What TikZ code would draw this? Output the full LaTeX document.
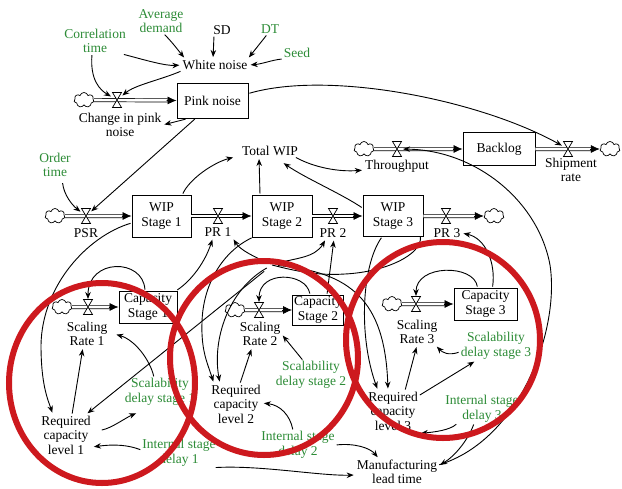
\documentclass[tikz,border=0pt]{standalone}
\usepackage{fontspec}
\setmainfont{Liberation Serif}
\usetikzlibrary{arrows.meta,calc,shapes.symbols}
\definecolor{dgreen}{RGB}{45,140,55}
\definecolor{ringred}{RGB}{205,25,30}
\newcommand{\dfont}{\fontsize{13.5}{14.5}\selectfont}
\tikzset{
  lbl/.style={font=\dfont, align=center, inner sep=1pt},
  glbl/.style={lbl, text=dgreen},
  stock/.style={draw, line width=0.9pt, fill=white, align=center, font=\dfont, inner sep=1pt},
  arr/.style={line width=0.9pt, -{Stealth[length=7pt,width=5.5pt]}, shorten >=2pt, shorten <=1pt},
  pipe/.style={double=white, double distance=2.6pt, line width=0.7pt},
  pipetip/.style={line width=0.7pt, -{Latex[length=9pt,width=8pt]}},
  cloudn/.style={cloud, cloud puffs=7, draw, fill=white, line width=0.7pt, minimum width=20pt, minimum height=15pt, inner sep=0pt},
  redring/.style={draw=ringred, line width=6pt},
  valve/.pic={\draw[line width=0.7pt, fill=white] (-4.5,-7.5) -- (4.5,-7.5) -- (-4.5,7.5) -- (4.5,7.5) -- cycle;}
}
\newcommand{\flowpipe}[2]{%
  \draw[pipe] (#1) -- ($(#2)!9pt!(#1)$);
  \draw[pipetip] ($(#2)!10pt!(#1)$) -- (#2);}
\begin{document}
\begin{tikzpicture}[x=1pt,y=-1pt]
\useasboundingbox (0,0) rectangle (622,488);
\fill[white] (0,0) rectangle (622,488);

% ---- top: noise ----
\node[glbl] (avgd) at (161,21) {Average\\demand};
\node[lbl] (sd) at (222,30) {SD};
\node[glbl] (dt) at (270,29) {DT};
\node[glbl] (seed) at (297,53) {Seed};
\node[glbl] (corr) at (95,41) {Correlation\\time};
\node[lbl] (wn) at (215,65) {White noise};
\node[stock, minimum width=71pt, minimum height=35pt] (pink) at (212.5,100.5) {Pink noise};
\node[cloudn] (cpnc) at (84,100) {};
\coordinate (cpn) at (117,100);
\node[lbl] (cpnl) at (120,125) {Change in pink\\noise};

% ---- WIP chain ----
\node[lbl] (totwip) at (270,151) {Total WIP};
\node[glbl] (order) at (55,165) {Order\\time};
\node[cloudn] (psrc) at (55,216) {};
\coordinate (psr) at (86,216);
\node[lbl] (psrl) at (86,233) {PSR};
\node[stock, minimum width=59pt, minimum height=42pt] (wip1) at (161.5,216) {WIP\\Stage 1};
\coordinate (pr1) at (218,216);
\node[lbl] (pr1l) at (218,232) {PR 1};
\node[stock, minimum width=60pt, minimum height=42pt] (wip2) at (282,216) {WIP\\Stage 2};
\coordinate (pr2) at (333,216);
\node[lbl] (pr2l) at (333,233) {PR 2};
\node[stock, minimum width=60pt, minimum height=41pt] (wip3) at (393,216) {WIP\\Stage 3};
\coordinate (pr3) at (446,216);
\node[lbl] (pr3l) at (447,233) {PR 3};
\node[cloudn] (pr3c) at (494,216) {};

% ---- backlog ----
\node[cloudn] (thrc) at (364,149) {};
\coordinate (thr) at (397,149);
\node[lbl] (thrl) at (397,166) {Throughput};
\node[stock, minimum width=72pt, minimum height=33pt] (backlog) at (499,149) {Backlog};
\coordinate (ship) at (568,149);
\node[lbl] (shipl) at (571,170) {Shipment\\rate};
\node[cloudn] (shipc) at (610,149) {};

% ---- capacity ----
\node[stock, minimum width=58pt, minimum height=32pt] (cap1) at (148,307) {Capacity\\Stage 1};
\node[cloudn] (sr1c) at (62,307) {};
\coordinate (sr1) at (88,307);
\node[lbl] (sr1l) at (87,334) {Scaling\\Rate 1};
\node[stock, minimum width=51pt, minimum height=30pt] (cap2) at (318,310) {Capacity\\Stage 2};
\node[cloudn] (sr2c) at (235,310) {};
\coordinate (sr2) at (259,310);
\node[lbl] (sr2l) at (260,334) {Scaling\\Rate 2};
\node[stock, minimum width=63pt, minimum height=32pt] (cap3) at (485.5,304) {Capacity\\Stage 3};
\node[cloudn] (sr3c) at (392,304) {};
\coordinate (sr3) at (416,304);
\node[lbl] (sr3l) at (417,332) {Scaling\\Rate 3};

\node[glbl] (sd1) at (160,392) {Scalability\\delay stage 1};
\node[glbl] (sd2) at (311,375) {Scalability\\delay stage 2};
\node[glbl] (sd3) at (496,346) {Scalability\\delay stage 3};
\node[lbl] (rc1) at (66,435) {Required\\capacity\\level 1};
\node[lbl] (rc2) at (236,404) {Required\\capacity\\level 2};
\node[lbl] (rc3) at (393,411) {Required\\capacity\\level 3};
\node[glbl] (isd1) at (179,453) {Internal stage\\delay 1};
\node[glbl] (isd2) at (298,445) {Internal stage\\delay 2};
\node[glbl] (isd3) at (482,409) {Internal stage\\delay 3};
\node[lbl] (mlt) at (397,472) {Manufacturing\\lead time};
\coordinate (hid) at (272,265);

% ---- flows ----
\flowpipe{cpnc.east}{pink.west}
\flowpipe{psrc.east}{wip1.west}
\flowpipe{wip1.east}{wip2.west}
\flowpipe{wip2.east}{wip3.west}
\flowpipe{wip3.east}{pr3c.west}
\flowpipe{thrc.east}{backlog.west}
\flowpipe{backlog.east}{shipc.west}
\flowpipe{sr1c.east}{cap1.west}
\flowpipe{sr2c.east}{cap2.west}
\flowpipe{sr3c.east}{cap3.west}
\foreach \v in {cpn,psr,pr1,pr2,pr3,thr,ship,sr1,sr2,sr3} {\pic at (\v) {valve};}

% ---- noise links ----
\draw[arr] ([xshift=-4pt]corr.south east) .. controls (145,60) and (165,66) .. (wn.west);
\draw[arr, shorten >=7pt] ([xshift=-3pt]corr.south) .. controls (90,80) and (100,90) .. (cpn);
\draw[arr] ([xshift=3pt]avgd.south) .. controls (172,42) and (178,50) .. ([xshift=4pt]wn.north west);
\draw[arr] ([xshift=-8pt]sd.south) -- ([xshift=-2pt]wn.north);
\draw[arr] ([xshift=-3pt]dt.south) -- ([xshift=-1pt]wn.north east);
\draw[arr] (seed.south west) .. controls (272,60) and (262,64) .. (wn.east);
\draw[arr, shorten >=7pt] (wn.south west) .. controls (160,80) and (135,85) .. (cpn);
\draw[arr, shorten <=3pt] ([xshift=-24pt]pink.south) -- (cpnl.east);
\draw[arr, shorten >=7pt] ([xshift=-17pt]pink.south) -- (psr);
\draw[arr, shorten >=7pt] ([yshift=7pt]pink.east) .. controls (330,70) and (480,100) .. (ship);

% ---- WIP links ----
\draw[arr] ([xshift=-9pt]wip1.north east) .. controls (190,178) and (215,162) .. ([xshift=-6pt]totwip.south west);
\draw[arr] ([xshift=-22pt]wip2.north) -- ([xshift=-11pt]totwip.south);
\draw[arr] ([yshift=8pt]wip3.west) .. controls (340,193) and (305,178) .. ([xshift=12pt,yshift=-5pt]totwip.south);
\draw[arr] ([xshift=-4pt]totwip.south east) .. controls (315,168) and (340,172) .. ([yshift=-4pt]thrl.west);
\draw[arr, shorten >=6pt] ([yshift=7pt]mlt.east) .. controls (520,440) and (560,330) .. (550,265) .. controls (538,200) and (475,150) .. (thr);
\draw[arr, shorten <=5pt, shorten >=7pt] ([xshift=7pt]order.south) .. controls (64,195) and (72,205) .. (psr);
\draw[arr] ([yshift=-7pt]wip1.west) .. controls (88,236) and (42,285) .. (41,345) .. controls (41,385) and (48,400) .. ([xshift=-13pt]rc1.north);

% ---- capacity links ----
\draw[arr] ([xshift=-1pt]cap1.north east) .. controls (192,280) and (205,262) .. ([xshift=-5pt]pr1l.south);
\draw[arr, shorten >=8pt] ([xshift=-3pt]cap1.north) .. controls (143,258) and (88,258) .. (sr1);
\draw[arr, shorten <=6pt] (hid) .. controls (255,257) and (240,250) .. (pr1l.south east);
\draw[arr, shorten <=10pt] (hid) -- ([xshift=-6pt]rc1.north east);
\draw[arr] ([xshift=1pt]wip2.south west) .. controls (222,252) and (203,285) .. (202,322) .. controls (201,350) and (207,362) .. ([xshift=-22pt]rc2.north);
\draw[arr, shorten <=6pt] (hid) .. controls (228,290) and (212,340) .. ([xshift=-16pt]rc2.north);
\draw[arr, shorten <=6pt] (hid) .. controls (295,258) and (315,258) .. ([xshift=-7pt]pr2l.south);
\draw[arr] ([xshift=9pt]cap2.north) -- ([xshift=1pt]pr2l.south);
\draw[arr, shorten >=8pt] ([xshift=-8pt]cap2.north) .. controls (306,272) and (259,270) .. (sr2);
\draw[line width=0.9pt] ([xshift=-3pt]wip3.south east) .. controls (422,255) and (385,272) .. (345,274) .. controls (315,276) and (292,270) .. (hid);
\draw[arr] ([xshift=-11pt]wip3.south) .. controls (362,265) and (358,335) .. ([xshift=-15pt]rc3.north);
\draw[arr, shorten <=6pt] (hid) .. controls (350,272) and (385,300) .. ([xshift=-5pt]rc3.north);
\draw[arr] ([xshift=7pt]cap3.north) .. controls (496,262) and (485,238) .. (pr3l.east);
\draw[arr, shorten >=8pt] ([xshift=-8pt]cap3.north) .. controls (474,264) and (416,264) .. (sr3);

% ---- stage 1 loop ----
\draw[arr] ([xshift=-6pt]sd1.north) .. controls (150,360) and (135,340) .. ([xshift=6pt]sr1l.east);
\draw[arr] ([xshift=6pt]rc1.north) -- ([xshift=-4pt]sr1l.south);
\draw[arr, shorten <=10pt] ([yshift=3pt]rc1.east) .. controls (112,428) and (125,418) .. ([xshift=-22pt,yshift=-6pt]sd1.south);
\draw[arr] ([yshift=3pt]isd1.west) .. controls (128,445) and (115,444) .. ([yshift=-12pt]rc1.east);
\draw[arr] ([xshift=-2pt]isd1.south east) .. controls (260,465) and (320,476) .. ([yshift=-3pt]mlt.west);

% ---- stage 2 loop ----
\draw[arr] ([xshift=-8pt]sd2.north) -- (sr2l.east);
\draw[arr] ([xshift=4pt]rc2.north) -- ([xshift=-8pt]sr2l.south);
\draw[arr] ([xshift=-5pt]isd2.north) .. controls (290,415) and (280,405) .. ([yshift=1pt]rc2.east);
\draw[arr] (isd2.east) .. controls (355,443) and (370,448) .. ([xshift=-18pt]mlt.north);

% ---- stage 3 loop ----
\draw[arr] ([yshift=-6pt]sd3.west) .. controls (448,356) and (442,352) .. ([xshift=-3pt]sr3l.south east);
\draw[arr] ([xshift=12pt]rc3.north) -- (sr3l.south);
\draw[arr] ([yshift=-5pt]rc3.north east) -- ([xshift=-20pt]sd3.south);
\draw[arr] ([xshift=-25pt]isd3.south) .. controls (450,430) and (435,432) .. ([yshift=-2pt]rc3.south east);
\draw[arr] ([xshift=-8pt]isd3.south) .. controls (468,440) and (455,456) .. ([yshift=6pt]mlt.east);

% ---- red rings ----
\draw[redring] (102,383) ellipse [x radius=93pt, y radius=100pt];
\draw[redring] (264,358) ellipse [x radius=94pt, y radius=97pt];
\draw[redring] (443,340) ellipse [x radius=97pt, y radius=98pt];
\end{tikzpicture}
\end{document}
